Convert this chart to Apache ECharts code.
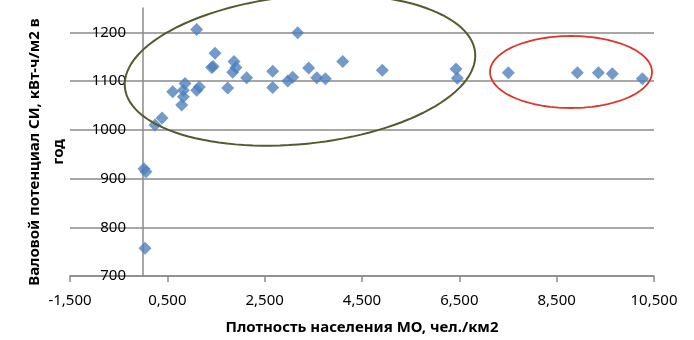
<!DOCTYPE html>
<html>
<head>
<meta charset="utf-8">
<script src="https://cdn.jsdelivr.net/npm/echarts@6/dist/echarts.min.js"></script>
<style>html,body{margin:0;padding:0;background:#fff}#c{width:694px;height:340px}</style>
</head>
<body>
<div id="c"></div>
<script>
// Population density (people/km2) of municipalities
var density = [41, 20, 60, 247, 390, 610, 795, 829, 829, 863, 1103, 1157, 1103, 1412, 1440, 1480, 1740, 1843, 1870, 1911, 2130, 2665, 2665, 2974, 3076, 3179, 3405, 3570, 3747, 4104, 4918, 6432, 6459, 7507, 8925, 9357, 9644, 10261];
// Gross solar potential, kWh/m2 per year
var potential = [757, 920, 914, 1010, 1024, 1078, 1051, 1068, 1081, 1095, 1081, 1088, 1206, 1128, 1130, 1157, 1086, 1118, 1140, 1128, 1107, 1120, 1087, 1100, 1108, 1199, 1127, 1107, 1105, 1140, 1122, 1125, 1106, 1117, 1117, 1117, 1115, 1105];
var xTicks = [-1500, 500, 2500, 4500, 6500, 8500, 10500];
var yTicks = [700, 800, 900, 1000, 1100, 1200];

var points = density.map(function (d, i) { return [d, potential[i]]; });

function fmtX(v) {
  var s = v < 0 ? '-' : '';
  var a = Math.abs(Math.round(v));
  var r = String(a % 1000);
  while (r.length < 3) r = '0' + r;
  return s + Math.floor(a / 1000) + ',' + r;
}

function ellipsePts(cx, cy, a, b, deg) {
  var t = deg * Math.PI / 180, pts = [];
  for (var k = 0; k <= 120; k++) {
    var u = k / 120 * 2 * Math.PI;
    var ex = a * Math.cos(u), ey = b * Math.sin(u);
    pts.push([cx + ex * Math.cos(t) - ey * Math.sin(t), cy + ex * Math.sin(t) + ey * Math.cos(t)]);
  }
  return pts;
}

var gray = '#8a8a8a';
var chart = echarts.init(document.getElementById('c'), null, { renderer: 'canvas' });
chart.setOption({
  animation: false,
  textStyle: { fontFamily: 'Noto Sans' },
  grid: { left: 70, right: 40, top: 8, bottom: 60 },
  xAxis: {
    type: 'value', min: xTicks[0], max: xTicks[xTicks.length - 1], interval: 2000,
    axisLine: { onZero: false, lineStyle: { color: gray, width: 1.5 } },
    axisTick: { show: true, length: 6, lineStyle: { color: gray, width: 1.5 } },
    splitLine: { show: false },
    axisLabel: { margin: 17, color: '#000', fontSize: 15, fontFamily: 'Noto Sans', formatter: fmtX },
    name: 'Плотность населения МО, чел./км2', nameLocation: 'middle', nameGap: 44,
    nameTextStyle: { fontWeight: 'bold', fontSize: 15, color: '#000', fontFamily: 'Noto Sans' }
  },
  yAxis: {
    type: 'value', min: yTicks[0], max: 1250, interval: 100,
    axisLine: { show: true, onZero: true, lineStyle: { color: gray, width: 1.5 } },
    axisTick: { show: false },
    splitLine: { show: true, showMaxLine: false, lineStyle: { color: gray, width: 1.5 } },
    axisLabel: { margin: -56, align: 'right', color: '#000', fontSize: 15, fontFamily: 'Noto Sans',
      formatter: function (v) { return yTicks.indexOf(v) >= 0 ? String(v) : ''; } }
  },
  series: [{
    type: 'scatter', data: points, symbol: 'diamond', symbolSize: 13,
    itemStyle: { color: '#4f81bd' }
  }],
  graphic: [
    { type: 'polyline', z: 100, shape: { points: ellipsePts(300, 70, 176, 74, -5.7) },
      style: { stroke: '#565a30', lineWidth: 2, fill: null } },
    { type: 'polyline', z: 100, shape: { points: ellipsePts(571, 72, 81, 36, 0) },
      style: { stroke: '#e0342a', lineWidth: 1.8, fill: null } },
    { type: 'text', z: 100, x: 47, y: 152, rotation: Math.PI / 2,
      style: { text: 'Валовой потенциал СИ, кВт-ч/м2 в\nгод', fontFamily: 'Noto Sans', fontWeight: 'bold',
        fontSize: 15, lineHeight: 24, fill: '#000', align: 'center', verticalAlign: 'middle' } }
  ]
});
</script>
</body>
</html>
